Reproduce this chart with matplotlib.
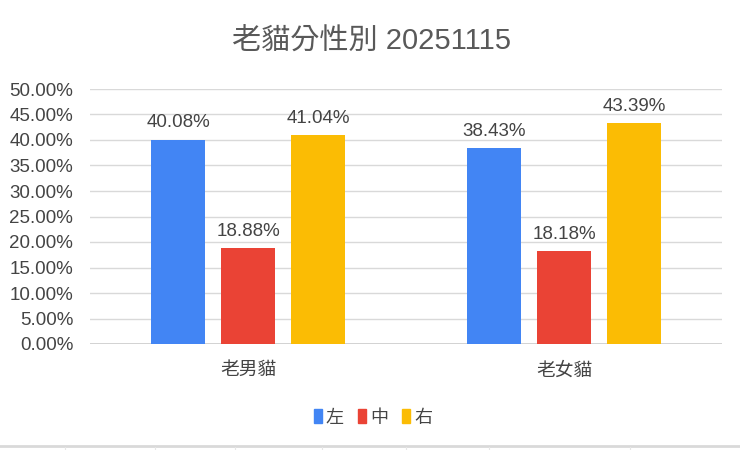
import matplotlib
matplotlib.use("Agg")
import matplotlib.pyplot as plt
import numpy as np
from matplotlib.lines import Line2D

categories = ["老男貓", "老女貓"]
series_names = ["左", "中", "右"]
left_vals = [40.08, 38.43]
mid_vals = [18.88, 18.18]
right_vals = [41.04, 43.39]
yticks = [0, 5, 10, 15, 20, 25, 30, 35, 40, 45, 50]
title = "老貓分性別 20251115"

colors = ["#4285F4", "#EA4335", "#FBBC04"]
text_color = "#444444"
FAM = ["Liberation Sans", "Noto Sans CJK TC", "DejaVu Sans"]
plt.rcParams["font.family"] = FAM

fig = plt.figure(figsize=(7.4, 4.5), dpi=100)
ax = fig.add_axes([90/740, 1-344/450, (722-90)/740, (344-89)/450])

x = np.arange(len(categories))
width = 0.174
offset = 0.2215
for i, (vals, c) in enumerate(zip([left_vals, mid_vals, right_vals], colors)):
    bars = ax.bar(x + (i-1)*offset, vals, width, color=c, zorder=3)
    for b, v in zip(bars, vals):
        ax.text(b.get_x()+b.get_width()/2, v + 1.6, f"{v:.2f}%", ha="center", va="bottom",
                fontsize=13.5, color=text_color)

ax.set_xlim(-0.5, 1.5)
ax.set_ylim(0, 50)
ax.set_yticks(yticks)
ax.set_yticklabels([f"{t:.2f}%" for t in yticks], fontsize=13.5, color=text_color)
ax.set_xticks(x)
ax.set_xticklabels(categories, fontsize=13.5, color=text_color)
ax.tick_params(axis="both", length=0)
ax.tick_params(axis="y", pad=12)
ax.tick_params(axis="x", pad=13)
ax.grid(axis="y", color="#d9d9d9", linewidth=1, zorder=0)
for s in ax.spines.values():
    s.set_visible(False)
ax.axhline(0, color="#cccccc", linewidth=1.2, zorder=2)

fig.text(371/740, 1-42/450, title, ha="center", va="center", fontsize=21, color="#595959")

handles = [plt.Rectangle((0, 0), 1, 1, color=c) for c in colors]
leg = fig.legend(handles, series_names, loc="center", bbox_to_anchor=(373/740, 1-418/450),
                 ncol=3, frameon=False, fontsize=13, handlelength=0.45, handleheight=0.8,
                 handletextpad=0.2, columnspacing=0.8)
for t in leg.get_texts():
    t.set_color(text_color)

# spreadsheet border at bottom
fig.add_artist(Line2D([0, 1], [1-446/450, 1-446/450], transform=fig.transFigure,
                      color="#d9d9d9", linewidth=2))
for px in [65, 155, 235, 322, 406, 489, 630]:
    fig.add_artist(Line2D([px/740, px/740], [0, 1-447/450], transform=fig.transFigure,
                          color="#e6e6e6", linewidth=0.8))

fig.savefig("out.png", dpi=100)
